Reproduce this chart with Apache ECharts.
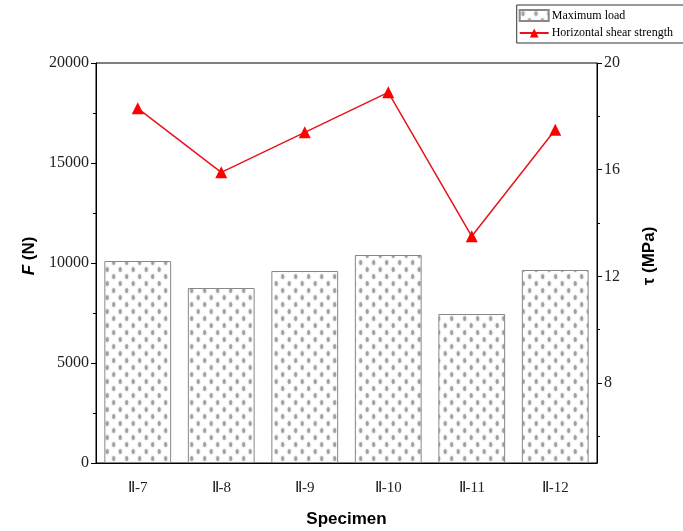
<!DOCTYPE html>
<html>
<head>
<meta charset="utf-8">
<script src="https://cdn.jsdelivr.net/npm/echarts@6/dist/echarts.min.js"></script>
<style>
  html, body { margin: 0; padding: 0; background: #fff; }
  #chart { width: 683px; height: 531px; }
</style>
</head>
<body>
<div id="chart"></div>
<script>
// 数据
const specimens = ['Ⅱ-7', 'Ⅱ-8', 'Ⅱ-9', 'Ⅱ-10', 'Ⅱ-11', 'Ⅱ-12']
const maxLoad = [10100, 8750, 9600, 10400, 7450, 9650]
const shearStrength = [18.3, 15.9, 17.4, 18.9, 13.5, 17.5]
const tauLabels = [8, 12, 16, 20]
const tauMinorTicks = [6, 10, 14, 18]

// 柱子的点状填充
function makeDots() {
  const c = document.createElement('canvas')
  c.width = 13
  c.height = 14
  const ctx = c.getContext('2d')
  ctx.fillStyle = '#fff'
  ctx.fillRect(0, 0, 13, 14)
  ctx.fillStyle = 'rgba(150,150,150,0.8)'
  ctx.shadowColor = 'rgba(150,150,150,0.9)'
  ctx.shadowBlur = 2
  const pts = [[3.2, 3.5], [9.7, 10.5], [9.7, -3.5], [-3.3, 10.5], [16.2, 10.5], [3.2, 17.5]]
  pts.forEach(p => {
    ctx.beginPath()
    ctx.ellipse(p[0], p[1], 1.5, 2.6, 0, 0, Math.PI * 2)
    ctx.fill()
  })
  return c
}

const plain = v => String(v)
const serif = '"Liberation Serif", "Times New Roman", serif'
const sans = '"Liberation Sans", Arial, sans-serif'
const myChart = echarts.init(document.getElementById('chart'))
const dots = makeDots()

const option = {
  animation: false,
  grid: {
    left: 96, right: 86, top: 63, bottom: 68,
    outerBoundsMode: 'none',
    containLabel: false,
    show: true, borderColor: '#000', borderWidth: 1
  },
  legend: {
    right: -40,
    top: 5,
    orient: 'vertical',
    itemGap: 5,
    itemWidth: 29,
    itemHeight: 11,
    padding: [4, 50, 4, 2],
    borderColor: '#333',
    borderWidth: 1,
    backgroundColor: '#fff',
    textStyle: { fontFamily: serif, fontSize: 12, color: '#000', padding: [0, 0, 0, -2] },
    data: [
      { name: 'Maximum load', icon: 'rect' },
      { name: 'Horizontal shear strength' }
    ]
  },
  xAxis: [
    {
      type: 'category',
      data: specimens,
      axisLine: { lineStyle: { color: '#000' } },
      axisTick: { alignWithLabel: true, length: 5, lineStyle: { color: '#000' } },
      axisLabel: { fontFamily: serif, fontSize: 15, color: '#222', margin: 18 },
      name: 'Specimen',
      nameLocation: 'middle',
      nameGap: 48,
      nameTextStyle: { fontFamily: sans, fontWeight: 'bold', fontSize: 17, color: '#000' }
    },
    {
      type: 'category',
      data: specimens,
      position: 'bottom',
      axisLine: { show: false },
      axisTick: { length: 3, lineStyle: { color: '#000' } },
      axisLabel: { show: false }
    }
  ],
  yAxis: [
    {
      type: 'value',
      min: 0, max: 20000, interval: 5000,
      axisLine: { show: true, lineStyle: { color: '#000' } },
      axisTick: { show: true, length: 5, lineStyle: { color: '#000' } },
      minorTick: { show: true, splitNumber: 2, length: 3, lineStyle: { color: '#000' } },
      splitLine: { show: false },
      axisLabel: { fontFamily: serif, fontSize: 16, color: '#222', margin: 7, formatter: plain },
      name: '{i|F} (N)',
      nameLocation: 'middle',
      nameRotate: 90,
      nameGap: 58,
      nameTextStyle: {
        fontFamily: sans, fontWeight: 'bold', fontSize: 17, color: '#000',
        padding: [0, 0, 0, 14],
        rich: { i: { fontFamily: sans, fontWeight: 'bold', fontStyle: 'italic', fontSize: 17 } }
      }
    },
    {
      type: 'value',
      position: 'right',
      min: 5, max: 20,
      axisLine: { show: true, lineStyle: { color: '#000' } },
      axisTick: { show: true, length: 5, customValues: tauLabels, lineStyle: { color: '#000' } },
      splitLine: { show: false },
      axisLabel: { fontFamily: serif, fontSize: 16, color: '#222', margin: 7, customValues: tauLabels, formatter: plain },
      name: 'τ (MPa)',
      nameLocation: 'middle',
      nameRotate: 90,
      nameGap: 44,
      nameTextStyle: { fontFamily: sans, fontWeight: 'bold', fontSize: 17, color: '#000', padding: [0, 0, 0, 14] }
    },
    {
      type: 'value',
      position: 'right',
      min: 5, max: 20,
      axisLine: { show: false },
      axisTick: { show: true, length: 3, customValues: tauMinorTicks, lineStyle: { color: '#000' } },
      splitLine: { show: false },
      axisLabel: { show: false }
    }
  ],
  series: [
    {
      name: 'Maximum load',
      type: 'bar',
      data: maxLoad,
      barWidth: '80%',
      itemStyle: {
        color: { image: dots, repeat: 'repeat' },
        borderColor: '#888',
        borderWidth: 1
      }
    },
    {
      name: 'Horizontal shear strength',
      type: 'line',
      yAxisIndex: 1,
      data: shearStrength,
      symbol: 'triangle',
      symbolSize: 12,
      lineStyle: { color: '#e8141c', width: 1.5 },
      itemStyle: { color: '#f00' }
    }
  ]
}

myChart.setOption(option)
</script>
</body>
</html>
